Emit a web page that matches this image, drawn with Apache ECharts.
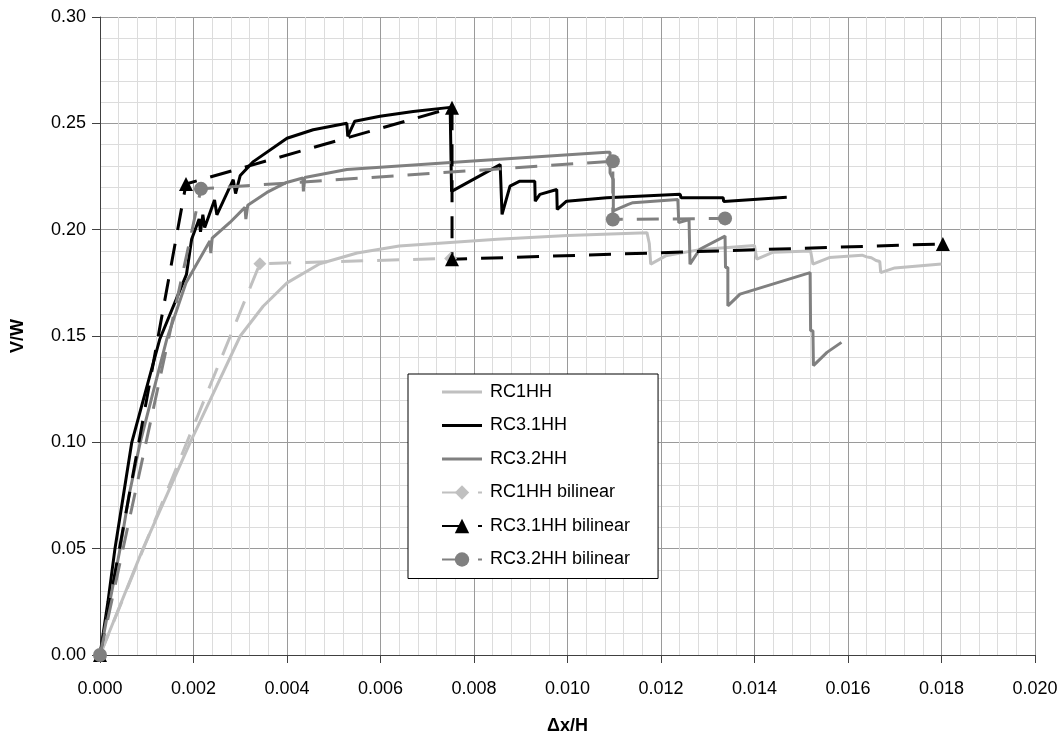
<!DOCTYPE html>
<html>
<head>
<meta charset="utf-8">
<script src="https://cdn.jsdelivr.net/npm/echarts@6/dist/echarts.min.js"></script>
<style>
html,body{margin:0;padding:0;background:#fff;}
#chart{width:1063px;height:740px;}
</style>
</head>
<body>
<div id="chart"></div>
<script>
// ---- data (x = Δx/H, y = V/W) ----
const seriesNames = ['RC1HH', 'RC3.1HH', 'RC3.2HH', 'RC1HH bilinear', 'RC3.1HH bilinear', 'RC3.2HH bilinear'];

const rc1hh = [[0,0],[0.00092,0.05],[0.00193,0.10],[0.0030,0.15],[0.00349,0.164],[0.0040,0.175],[0.0047,0.184],[0.0055,0.189],[0.0064,0.1923],[0.0085,0.1955],[0.0100,0.1972],[0.0117,0.1986],[0.01175,0.1935],[0.01178,0.1838],[0.0121,0.1877],[0.0128,0.1905],[0.0140,0.1925],[0.01405,0.1861],[0.0144,0.1894],[0.0152,0.1900],[0.01525,0.1838],[0.0156,0.1869],[0.0163,0.1880],[0.0164,0.1872],[0.0165,0.1868],[0.0166,0.1855],[0.01668,0.1850],[0.0167,0.1798],[0.0170,0.1820],[0.0180,0.1838]];

const rc31hh = [[0,0],[0.00017,0.025],[0.00032,0.05],[0.0005,0.075],[0.00068,0.10],[0.00128,0.1486],[0.00185,0.179],[0.00196,0.1955],[0.00212,0.205],[0.00215,0.199],[0.0022,0.207],[0.00224,0.201],[0.00245,0.214],[0.0025,0.207],[0.00285,0.2235],[0.0029,0.217],[0.0030,0.2255],[0.00328,0.232],[0.0040,0.243],[0.00456,0.247],[0.00528,0.250],[0.0053,0.2439],[0.00545,0.251],[0.00599,0.2533],[0.0067,0.2556],[0.00749,0.2575],[0.00752,0.218],[0.00856,0.2306],[0.0086,0.2072],[0.00877,0.2205],[0.00898,0.2228],[0.0093,0.2228],[0.00931,0.2134],[0.00941,0.2166],[0.00977,0.2189],[0.00978,0.2095],[0.00998,0.2134],[0.01084,0.2150],[0.01241,0.2166],[0.01243,0.2150],[0.01333,0.2150],[0.01334,0.2133],[0.01469,0.2153]];

const rc32hh = [[0,0],[0.00021,0.025],[0.00043,0.05],[0.00062,0.075],[0.00086,0.10],[0.00143,0.1486],[0.00184,0.175],[0.00235,0.1947],[0.00237,0.189],[0.0024,0.196],[0.00278,0.2034],[0.0031,0.2105],[0.00312,0.205],[0.00316,0.2115],[0.00357,0.2175],[0.00399,0.2222],[0.00434,0.2243],[0.00435,0.218],[0.00438,0.2245],[0.00528,0.2283],[0.0079,0.2322],[0.01084,0.2364],[0.01091,0.2364],[0.01091,0.2267],[0.01098,0.2236],[0.01098,0.2088],[0.0113,0.2119],[0.0114,0.2127],[0.01236,0.2142],[0.01238,0.2033],[0.0126,0.2048],[0.01262,0.1838],[0.01283,0.1908],[0.01337,0.1970],[0.01338,0.1822],[0.01343,0.1822],[0.01343,0.1642],[0.01369,0.1697],[0.01519,0.1798],[0.0152,0.1525],[0.01525,0.1525],[0.01526,0.1361],[0.01555,0.1423],[0.01586,0.1470]];

const rc1hhBi = [[0,0],[0.00342,0.184],[0.0075,0.1865]];
const rc31hhBi = [[0,0],[0.00184,0.2215],[0.00753,0.2573],[0.00753,0.1861],[0.01803,0.1933]];
const rc32hhBi = [[0,0],[0.00216,0.2192],[0.01097,0.2322],[0.01097,0.2048],[0.01337,0.2053]];

const xTicks = {min: 0, max: 0.020, interval: 0.002, decimals: 3};
const yTicks = {min: 0, max: 0.30, interval: 0.05, decimals: 2};

// ---- chart ----
const FONT = '"Liberation Sans", Arial, sans-serif';
const LIGHT = '#c0c0c0', BLACK = '#000000', MID = '#808080';
const DASH = [22, 14];
const LINE_ICON = 'path://M0,0L40,0L40,3L0,3Z';

function solid(name, data, color) {
  return {name, type: 'line', data, symbol: 'none', clip: false,
    lineStyle: {color, width: 3}, itemStyle: {color}};
}
function bilinear(name, data, color, symbol, size) {
  return {name, type: 'line', data, symbol, symbolSize: size, showSymbol: true, clip: false,
    lineStyle: {color, width: 3, type: DASH}, itemStyle: {color, borderWidth: 0}};
}

const axisCommon = {
  type: 'value',
  axisLine: {show: true, onZero: false, lineStyle: {color: '#404040', width: 1}},
  axisTick: {show: true, length: 8, inside: false, lineStyle: {color: '#404040'}},
  splitLine: {show: true, lineStyle: {color: '#9a9a9a', width: 1}},
  minorTick: {show: false, splitNumber: 5},
  minorSplitLine: {show: true, lineStyle: {color: '#dcdcdc', width: 1}},
  nameLocation: 'middle',
  nameTextStyle: {fontFamily: FONT, fontWeight: 'bold', fontSize: 18, color: '#000'}
};

const chart = echarts.init(document.getElementById('chart'), null, {renderer: 'canvas'});
chart.setOption({
  animation: false,
  backgroundColor: '#ffffff',
  grid: {left: 100, right: 28, top: 17, bottom: 83, containLabel: false},
  xAxis: Object.assign({}, axisCommon, {
    min: xTicks.min, max: xTicks.max, interval: xTicks.interval,
    name: 'Δx/H', nameGap: 62,
    axisLabel: {fontFamily: FONT, fontSize: 18, color: '#000', margin: 25,
      formatter: v => v.toFixed(xTicks.decimals)}
  }),
  yAxis: Object.assign({}, axisCommon, {
    min: yTicks.min, max: yTicks.max, interval: yTicks.interval,
    name: 'V/W', nameGap: 73,
    axisLabel: {fontFamily: FONT, fontSize: 18, color: '#000', margin: 14,
      formatter: v => v.toFixed(yTicks.decimals)}
  }),
  legend: {
    show: true,
    orient: 'vertical',
    left: 408, top: 374,
    data: [
      {name: seriesNames[0], icon: LINE_ICON},
      {name: seriesNames[1], icon: LINE_ICON},
      {name: seriesNames[2], icon: LINE_ICON},
      {name: seriesNames[3]},
      {name: seriesNames[4]},
      {name: seriesNames[5]}
    ],
    backgroundColor: '#ffffff',
    borderColor: '#000', borderWidth: 1, borderRadius: 0,
    padding: [9, 28, 10, 33],
    itemWidth: 40, itemHeight: 18, itemGap: 15.5,
    textStyle: {fontFamily: FONT, fontSize: 18, color: '#000', padding: [0, 0, 0, 3]}
  },
  series: [
    solid(seriesNames[0], rc1hh, LIGHT),
    solid(seriesNames[1], rc31hh, BLACK),
    solid(seriesNames[2], rc32hh, MID),
    bilinear(seriesNames[3], rc1hhBi, LIGHT, 'diamond', 13),
    bilinear(seriesNames[4], rc31hhBi, BLACK, 'triangle', 14),
    bilinear(seriesNames[5], rc32hhBi, MID, 'circle', 14)
  ]
});
</script>
</body>
</html>
